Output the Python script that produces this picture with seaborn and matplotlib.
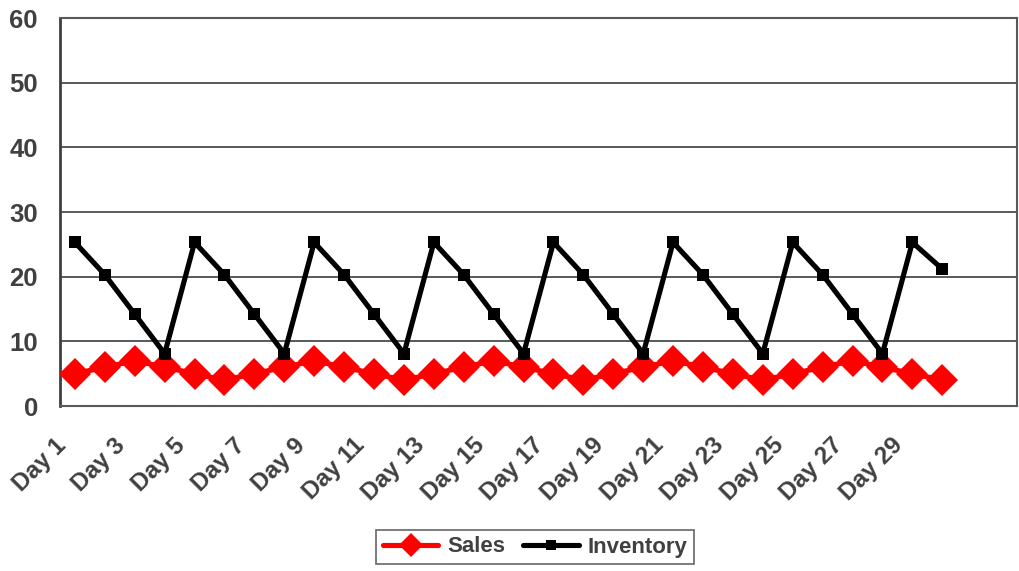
import matplotlib
matplotlib.use("Agg")
import matplotlib.pyplot as plt
from matplotlib.transforms import ScaledTranslation
import seaborn as sns
import pandas as pd
import numpy as np

# Daily sales and on-hand inventory over a 30-day horizon
days = [f"Day {i}" for i in range(1, 31)]
sales = [5, 6, 7, 6, 5, 4, 5, 6, 7, 6, 5, 4, 5, 6, 7, 6, 5, 4, 5, 6,
         7, 6, 5, 4, 5, 6, 7, 6, 5, 4]
inventory = [25.3, 20.3, 14.2, 8.1, 25.3, 20.3, 14.2, 8.1, 25.3, 20.3, 14.2, 8.1,
             25.3, 20.3, 14.2, 8.1, 25.3, 20.3, 14.2, 8.1, 25.3, 20.3, 14.2, 8.1,
             25.3, 20.3, 14.2, 8.1, 25.3, 21.2]
series_names = ["Sales", "Inventory"]
y_ticks = [0, 10, 20, 30, 40, 50, 60]
n_slots = 32  # category slots on the axis (two trailing empty slots)

text_color = "#404040"
grid_color = "#595959"

sns.set_theme(style="white")
plt.rcParams["font.family"] = ["Liberation Sans", "DejaVu Sans"]
plt.rcParams["font.weight"] = "bold"

df = pd.DataFrame({
    "day": days * 2,
    "pos": list(range(len(days))) * 2,
    "value": sales + inventory,
    "series": [series_names[0]] * len(days) + [series_names[1]] * len(days),
})

fig = plt.figure(figsize=(10.19, 5.71), dpi=100)
ax = fig.add_axes([60 / 1019, 1 - 406 / 571, (1017 - 60) / 1019, (406 - 18) / 571])

styles = {
    "Sales": dict(color="#ff0000", marker="D", markersize=16, linewidth=3.7, zorder=3),
    "Inventory": dict(color="#000000", marker="s", markersize=9, linewidth=3.7, zorder=4),
}
for name in series_names:
    sub = df[df["series"] == name]
    st = styles[name]
    sns.lineplot(data=sub, x="pos", y="value", ax=ax, label=name,
                 color=st["color"], marker=st["marker"], markersize=st["markersize"],
                 markeredgewidth=0, linewidth=st["linewidth"], zorder=st["zorder"])

ax.set_yticks(y_ticks)
ax.set_yticklabels([str(v) for v in y_ticks], fontsize=18.5, fontweight="bold", color=text_color)

# labels at every other day, tick marks on category boundaries
ax.set_xticks(list(range(0, len(days), 2)))
ax.set_xticklabels(days[::2], rotation=45, ha="right", rotation_mode="anchor",
                   fontsize=17.5, fontweight="bold", color=text_color)
ax.set_xticks(np.arange(-0.5, n_slots, 1.0), minor=True)
ax.tick_params(axis="x", which="major", length=0, pad=20)
ax.tick_params(axis="x", which="minor", length=6, width=1.5, color=grid_color, direction="out")
ax.tick_params(axis="y", which="major", length=6, width=1.5, color=grid_color, direction="out", pad=10)
ax.set_xlim(-0.5, n_slots - 0.5)
ax.set_ylim(0, 60)
ax.set_xlabel("")
ax.set_ylabel("")

# rotated labels hang to the left of their slot
shift = ScaledTranslation(-0.21, 0, fig.dpi_scale_trans)
for tick in ax.xaxis.get_major_ticks():
    tick.label1.set_transform(tick.label1.get_transform() + shift)

ax.yaxis.grid(True, color=grid_color, linewidth=1.4)
ax.set_axisbelow(True)
for side in ["left", "bottom", "right", "top"]:
    ax.spines[side].set_visible(True)
    ax.spines[side].set_color(grid_color)
    ax.spines[side].set_linewidth(1.5)
ax.spines["left"].set_color(text_color)
ax.spines["left"].set_linewidth(2)

leg = ax.legend(loc="center", bbox_to_anchor=(535 / 1019, 1 - 547 / 571),
                bbox_transform=fig.transFigure, ncol=2, frameon=True, fancybox=False,
                edgecolor=text_color, fontsize=16, handlelength=2.5, markerscale=0.75,
                columnspacing=0.8, handletextpad=0.4, borderpad=0.3)
leg.get_frame().set_linewidth(1.2)
for t in leg.get_texts():
    t.set_color(text_color)
    t.set_fontweight("bold")

fig.savefig("out.png", dpi=100)
